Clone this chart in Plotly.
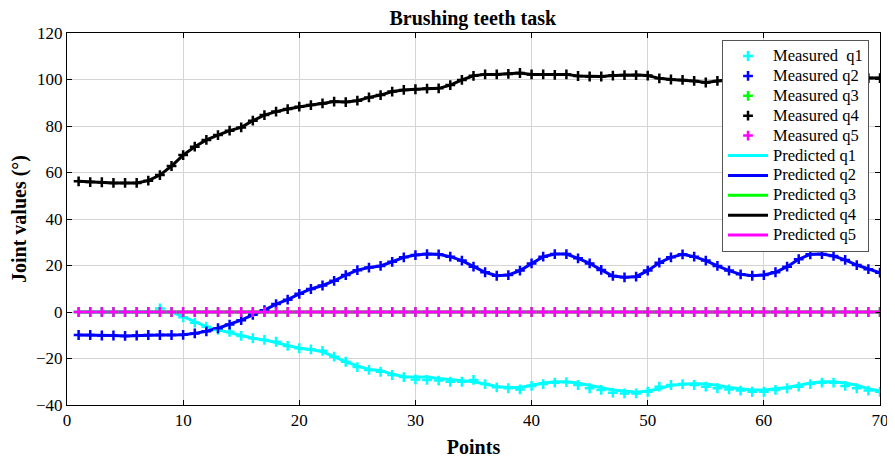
import plotly.graph_objects as go

points = list(range(1, 71))

# Predicted joint values (deg)
pred_q1 = [0, 0, 0, 0, 0, 0, 0, 0, 0, -2, -4.2, -6.3, -7.7, -8.9, -10.3, -11.3, -12, -13.2, -14.6, -15.6,
           -16.1, -17.1, -19.2, -21.4, -23.2, -24.7, -25.2, -26.7, -27.8, -28.0, -28.0, -28.6, -29.0, -29.5, -30,
           -31, -32, -32.5, -32.5, -31.5, -30.5, -30, -30, -30.5, -31.5, -32.5, -33.5, -34, -34.5, -34,
           -33, -31.5, -31, -30.8, -31, -31.5, -32.5, -33, -33.5, -33.5, -33, -32.5, -31.5, -30.5, -30,
           -30, -30.5, -31.5, -33, -34]
pred_q2 = [-9.9, -9.9, -10.1, -10.1, -10.3, -10.1, -9.9, -9.9, -9.9, -9.8, -9.2, -8.3, -7.0, -5.4, -3.5, -1.2, 0.8, 3.4, 5.3, 7.8,
           9.9, 11.4, 13.4, 15.9, 18.0, 19.1, 19.8, 21.6, 23.5, 24.5, 24.9, 24.8, 23.8, 22.1, 19.5, 17.1, 15.6, 15.9, 17.8, 20.9,
           23.8, 24.9, 24.9, 23.1, 20.9, 18.1, 15.5, 14.9, 15.2, 17.8, 21.2, 23.5, 24.8, 23.8, 22.1, 19.8, 17.8, 16.2, 15.6, 15.9,
           17.1, 19.5, 22.7, 24.8, 24.9, 24.1, 22.4, 20.2, 18.4, 16.9]
pred_q3 = [0] * 70
pred_q4 = [56.2, 55.9, 55.8, 55.5, 55.5, 55.5, 56.5, 58.9, 62.8, 67.5, 71.1, 74.0, 76.1, 78.0, 79.4, 82.3, 84.7, 86.2, 87.3, 88.3,
           89.0, 89.7, 90.5, 90.3, 90.9, 92.3, 93.3, 94.8, 95.5, 95.8, 96.1, 96.2, 97.6, 99.8, 101.6, 102.2, 102.2, 102.4, 102.8, 102.2,
           102.2, 102.0, 102.2, 101.5, 101.3, 101.3, 101.7, 101.9, 101.9, 101.7, 100.5, 100.0, 99.8, 99.4, 98.7, 99.4, 100.0, 100.4, 100.5, 100.6,
           100.4, 100.2, 100.2, 100.2, 100.3, 100.5, 100.5, 100.5, 100.6, 100.6]
pred_q5 = [0] * 70

# Measured joint values (deg)
meas_q1 = [0, 0, 0, 0, 0, 0, 0, 1.5, 0, -2.3, -4.6, -6.3, -7.7, -8.5, -10.3, -11.3, -12, -12.8, -14.6, -15.6,
           -16.1, -16.7, -19.2, -21.4, -23.7, -24.9, -25.7, -27.1, -28.0, -29.0, -29.2, -29.5, -30.0, -30.0, -29.2,
           -31, -32.4, -32.8, -33.3, -31.8, -31, -30.4, -30.2, -31.4, -32.8, -33.5, -34.7, -35, -35, -34.3,
           -32.1, -31.4, -31, -31.4, -32.1, -32.8, -33.3, -33.8, -34.3, -34.3, -33.5, -32.8, -32.1, -31, -30.4,
           -30.4, -31.8, -32.8, -33.8, -34.3]
meas_q2 = [v for v in pred_q2]
meas_q3 = [0] * 70
meas_q4 = [v for v in pred_q4]
meas_q5 = [0] * 70

x_ticks = [0, 10, 20, 30, 40, 50, 60, 70]
y_ticks = [-40, -20, 0, 20, 40, 60, 80, 100, 120]

colors = ["#00FFFF", "#0000FF", "#00FF00", "#000000", "#FF00FF"]
meas = [meas_q1, meas_q2, meas_q3, meas_q4, meas_q5]
pred = [pred_q1, pred_q2, pred_q3, pred_q4, pred_q5]
meas_names = ["Measured  q1", "Measured q2", "Measured q3", "Measured q4", "Measured q5"]
pred_names = ["Predicted q1", "Predicted q2", "Predicted q3", "Predicted q4", "Predicted q5"]


def legend_label(s):
    return '<span style="font-size:16.5px">' + s.replace("  ", "&nbsp; ") + "</span>"


fig = go.Figure()
for i in range(5):
    fig.add_trace(go.Scatter(
        x=points, y=pred[i], mode="lines", name=pred_names[i],
        line=dict(color=colors[i], width=3), showlegend=False))
for i in range(5):
    fig.add_trace(go.Scatter(
        x=points, y=meas[i], mode="markers", name=legend_label(meas_names[i]),
        marker=dict(symbol="cross-thin", size=7, line=dict(color=colors[i], width=2.5)),
        legendrank=1000 + 10 * i))
# legend entries for predicted lines (drawn order above keeps markers on top)
for i in range(5):
    fig.add_trace(go.Scatter(
        x=[None], y=[None], mode="lines", name=legend_label(pred_names[i]),
        line=dict(color=colors[i], width=3), legendrank=1000 + 10 * (i + 5)))

font_family = "Liberation Serif, Times New Roman, serif"
fig.update_layout(
    width=887, height=452,
    margin=dict(l=59, r=15, t=25, b=55, autoexpand=False),
    paper_bgcolor="white", plot_bgcolor="white",
    font=dict(family=font_family, size=17, color="black"),
    title=dict(text="<b>Brushing teeth task</b>", x=0.524, xanchor="center", y=0.994, yanchor="top",
               font=dict(family=font_family, size=20, color="black")),
    showlegend=True,
    legend=dict(x=0.9865, xanchor="right", y=0.981, yanchor="top",
                bgcolor="white", bordercolor="#555555", borderwidth=1,
                font=dict(family=font_family, size=13, color="black"),
                tracegroupgap=0, itemwidth=40),
)
fig.update_xaxes(
    range=[0, 70], tickvals=x_ticks, ticks="inside", ticklen=5, tickcolor="black",
    showline=True, linecolor="black", linewidth=1, mirror="ticks", automargin=False,
    showgrid=True, gridcolor="#d4d4d4", gridwidth=1, zeroline=False,
    title=dict(text="<b>Points</b>", font=dict(family=font_family, size=20), standoff=10),
    tickfont=dict(family=font_family, size=17),
)
fig.update_yaxes(
    range=[-40, 120], tickvals=y_ticks, ticks="inside", ticklen=5, tickcolor="black",
    showline=True, linecolor="black", linewidth=1, mirror="ticks", automargin=False,
    showgrid=True, gridcolor="#d4d4d4", gridwidth=1, zeroline=False,
    title=dict(text="<b>Joint values (°)</b>", font=dict(family=font_family, size=20), standoff=9),
    tickfont=dict(family=font_family, size=17),
)

fig.write_html("out.html")
